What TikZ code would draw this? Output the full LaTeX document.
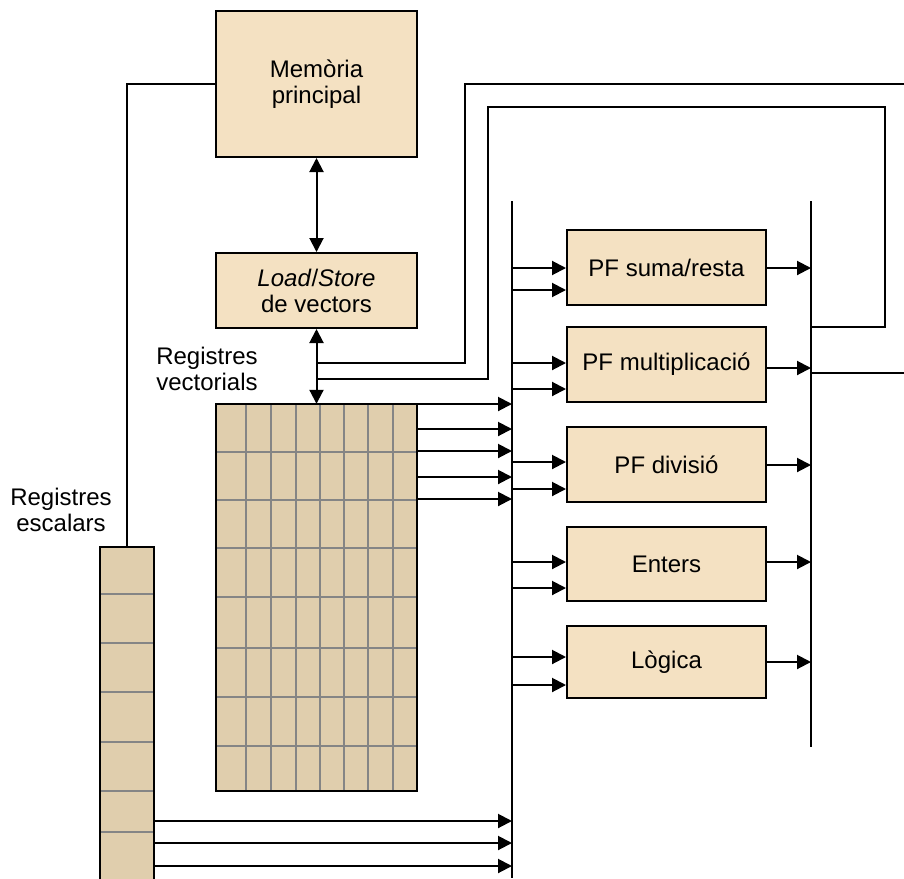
\documentclass[tikz,border=0pt]{standalone}
\usepackage{fontspec}
\setmainfont{Liberation Sans}
\usetikzlibrary{arrows.meta}
\definecolor{unitfill}{HTML}{F4E1C2}
\definecolor{regfill}{HTML}{E0CEAD}
\definecolor{cellline}{HTML}{858585}
\tikzset{
  txt/.style={font=\fontsize{24}{26}\selectfont},
  unit/.style={txt, draw, line width=2pt, fill=unitfill, inner sep=0pt, align=center},
  wire/.style={line width=2pt},
  arr/.style={wire, -{Triangle[length=14pt,width=14pt]}},
  darr/.style={wire, {Triangle[length=14pt,width=14pt]}-{Triangle[length=14pt,width=14pt]}},
  regbox/.style={fill=regfill, inner sep=0pt},
  frame/.style={line width=2pt},
  cell/.style={draw=cellline, line width=1.5pt},
  lbl/.style={txt, align=center, inner sep=0pt},
}
\begin{document}
\begin{tikzpicture}[x=1pt,y=-1pt]
\useasboundingbox (0,0) rectangle (904,878);
\clip (0,0) rectangle (904,878);

% memory and load/store units
\node[unit, minimum width=201pt, minimum height=146pt] (mem) at (316.5,84) {Memòria\\principal};
\node[unit, minimum width=201pt, minimum height=75pt] (ls) at (316.5,290.5) {\textit{Load}/\textit{Store}\\de vectors};

% functional units
\node[unit, minimum width=199pt, minimum height=75pt] (fadd) at (666.5,267.5) {PF suma/resta};
\node[unit, minimum width=199pt, minimum height=75pt] (fmul) at (666.5,364.5) {PF multiplicació};
\node[unit, minimum width=199pt, minimum height=75pt] (fdiv) at (666.5,464.5) {PF divisió};
\node[unit, minimum width=199pt, minimum height=74pt] (fint) at (666.5,564) {Enters};
\node[unit, minimum width=199pt, minimum height=72pt] (flog) at (666.5,662) {Lògica};

% vector register file: 8 x 8 cells
\node[regbox, minimum width=201pt, minimum height=387pt] (vreg) at (316.5,597.5) {};
\foreach \cx in {246,271,296,320,344,368,393}
  \draw[cell] (vreg.north -| \cx,0) -- (vreg.south -| \cx,0);
\foreach \cy in {452,500,548,597,648,697,746}
  \draw[cell] (vreg.west |- 0,\cy) -- (vreg.east |- 0,\cy);
\draw[frame] (vreg.north west) rectangle (vreg.south east);

% scalar register file
\node[regbox, minimum width=54pt, minimum height=353pt, anchor=north] (sreg) at (127,547) {};
\foreach \cy in {594,643,692,742,791,832}
  \draw[cell] (sreg.west |- 0,\cy) -- (sreg.east |- 0,\cy);
\draw[frame] (sreg.south west) -- (sreg.north west) -- (sreg.north east) -- (sreg.south east);

% labels
\node[lbl] (vlbl) at (207,369) {Registres\\vectorials};
\node[lbl] (slbl) at (61,510) {Registres\\escalars};

% buses
\coordinate (lbusT) at (512,201);
\coordinate (lbusB) at (512,878);
\coordinate (rbusT) at (811,201);
\coordinate (rbusB) at (811,747);
\draw[wire] (lbusT) -- (lbusB);
\draw[wire] (rbusT) -- (rbusB);

% memory links
\draw[darr] (mem.south) -- (ls.north);
\draw[darr] (ls.south) -- (vreg.north);
\draw[wire] (mem.west) -| (sreg.north);

% results fed back to the load/store path
\coordinate (tapA) at (316.5,363);
\coordinate (tapB) at (316.5,379);
\coordinate (outA) at (904,84);
\coordinate (rbusFb) at (811,327);
\draw[wire] (tapA) -- (465,363) -- (465,84) -- (outA);
\draw[wire] (tapB) -- (488,379) -- (488,107) -- (885,107) -- (885,327) -- (rbusFb);
\coordinate (outB) at (904,373);
\draw[wire] (rbusT |- outB) -- (outB);

% vector registers to input bus
\foreach \ry in {404,429,451,477,499}
  \draw[arr] (vreg.east |- 0,\ry) -- (lbusT |- 0,\ry);
% scalar registers to input bus
\foreach \ry in {821,843,866}
  \draw[arr] (sreg.east |- 0,\ry) -- (lbusT |- 0,\ry);

% operand inputs to the functional units
\foreach \u/\ya/\yb in {fadd/268/290, fmul/363/389, fdiv/462/489, fint/562/588, flog/657/685} {
  \draw[arr] (lbusT |- 0,\ya) -- (\u.west |- 0,\ya);
  \draw[arr] (lbusT |- 0,\yb) -- (\u.west |- 0,\yb);
}
% results to output bus
\foreach \u/\yo in {fadd/268, fmul/368, fdiv/465, fint/562, flog/662}
  \draw[arr] (\u.east |- 0,\yo) -- (rbusT |- 0,\yo);
\end{tikzpicture}
\end{document}
